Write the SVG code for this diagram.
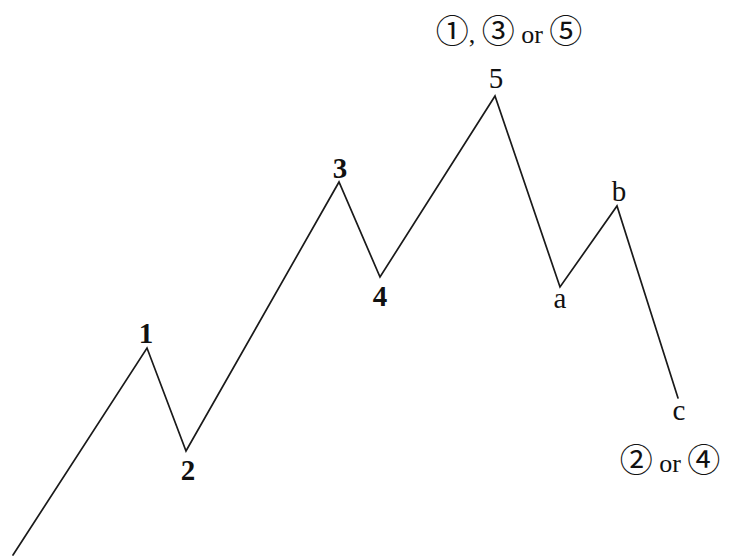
<svg xmlns="http://www.w3.org/2000/svg" width="729" height="558" viewBox="0 0 729 558">
<style>
.wave{fill:none;stroke:#1a1a1a;stroke-width:1.7;stroke-linejoin:miter;stroke-linecap:round}
.num{font-family:"Liberation Serif",serif;font-weight:bold;font-size:29px;fill:#111;text-anchor:middle}
.let{font-family:"Liberation Serif",serif;font-size:29px;fill:#111;text-anchor:middle}
.note{font-family:"Liberation Serif",serif;font-size:26px;fill:#111;text-anchor:middle}
.circ{font-family:"Noto Sans CJK JP","DejaVu Sans",sans-serif;font-size:33px;font-weight:normal}
</style>
<rect width="729" height="558" fill="#fff"/>
<g id="connectors">
<polyline class="wave" points="13,555 147,348 186,451 339,182 380,277 495,96 560,287 617,206 678,398"/>
</g>
<g id="node-1"><text class="num" x="146" y="343">1</text></g>
<g id="node-2"><text class="num" x="188" y="480">2</text></g>
<g id="node-3"><text class="num" x="340" y="178">3</text></g>
<g id="node-4"><text class="num" x="380" y="306">4</text></g>
<g id="node-5"><text class="let" x="496" y="88">5</text></g>
<g id="node-a"><text class="let" x="560" y="308">a</text></g>
<g id="node-b"><text class="let" x="619" y="201">b</text></g>
<g id="node-c"><text class="let" x="679" y="420">c</text></g>
<g id="note-top"><text class="note" x="509" y="43"><tspan class="circ">①</tspan>, <tspan class="circ">③</tspan> or <tspan class="circ">⑤</tspan></text></g>
<g id="note-bottom"><text class="note" x="670" y="472"><tspan class="circ">②</tspan> or <tspan class="circ">④</tspan></text></g>
</svg>
